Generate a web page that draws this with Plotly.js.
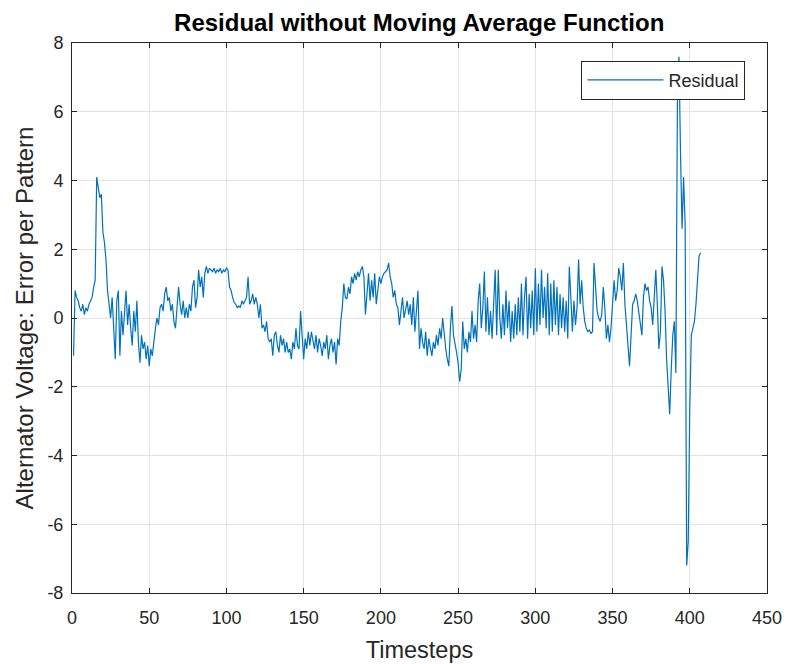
<!DOCTYPE html>
<html>
<head>
<meta charset="utf-8">
<script src="https://cdn.plot.ly/plotly-3.0.1.min.js"></script>
<style>html,body{margin:0;padding:0;background:#fff;}#chart{width:788px;height:664px;}</style>
</head>
<body>
<div id="chart"></div>
<script>
// Residual values per timestep, starting at timestep 1
const residualA = [
  -1.1, 0.8, 0.6, 0.5, 0.3, 0.2, 0.4, 0.1, 0.3, 0.2,
  0.4, 0.5, 0.6, 0.9, 1.1, 4.1, 3.8, 3.5, 3.6, 2.5,
  2.2, 1.7, 0.8, 0.4, 0.0, 0.6, -0.4, -1.2, 0.5, 0.8,
  -1.1, 0.2, -0.5, 0.3, 0.8, -0.2, 0.4, -0.3, -0.8, 0.2,
  -0.4, 0.5, -0.7, -1.3, -0.5, -0.9, -0.7, -1.2, -0.8, -1.4,
  -0.9, -1.1, -0.6, -0.3, 0.0, -0.2, 0.3, 0.4, 0.2, 0.7,
  0.9, 0.5, 0.6, 0.2, 0.4, -0.1, -0.3, 0.3, 0.9, 0.4,
  0.1, 0.5, 0.0, 0.3, 0.0, 0.4, 0.2, 0.9, 1.1, 0.3,
  0.6, 1.4, 0.9, 1.2, 0.6, 1.3, 1.5, 1.3, 1.45, 1.4,
  1.35, 1.45, 1.3, 1.4, 1.35, 1.45, 1.3, 1.4, 1.35, 1.45
];
const residualB = [
  1.4, 0.9, 0.8, 0.6, 0.45, 0.4, 0.3, 0.35, 0.3, 0.5,
  0.4, 0.5, 0.6, 1.2, 0.4, 0.5, 0.7, 0.4, 0.6, 0.4,
  0.0, 0.4, -0.3, -0.2, -0.4, -0.1, -0.6, -0.7, -0.6, -1.1,
  -0.5, -0.4, -0.8, -1.0, -0.5, -0.8, -0.6, -1.0, -0.7, -1.0,
  -0.9, -1.2, -0.7, -0.9, -0.3, -0.8, -0.9, 0.2, -0.5, -1.2,
  -0.6, -0.9, -0.4, -0.8, -0.4, -0.6, -0.9, -0.5, -1.0, -0.6,
  -0.8, -1.1, -0.7, -0.9, -0.5, -1.2, -0.8, -0.6, -1.0, -0.7,
  -1.35, -0.6, -0.8, -0.1, 0.3, 1.0, 0.6, 0.55, 0.9, 0.7,
  1.2, 1.0, 1.3, 1.1, 1.35, 1.2, 1.4, 1.5, 1.2, 0.1,
  0.8, 1.3, 0.5, 1.1, 0.6, 1.3, 0.4, 0.8, 1.2, 1.0
];
const residualC = [
  1.2, 1.3, 1.35, 1.4, 1.6, 1.2, 1.0, 0.6, 0.8, 0.4,
  0.3, -0.2, 0.2, 0.6, 0.0, 0.3, 0.5, 0.1, 0.4, -0.2,
  0.6, -0.4, 0.3, 0.8, -0.9, -0.3, -0.7, -0.9, -0.4, -1.1,
  -0.6, -0.8, -1.1, -0.7, -0.9, -0.5, -0.8, -0.3, -0.6, 0.0,
  -0.5, -0.9, -1.2, -1.4, -0.3, 0.35, -0.5, -0.7, -1.0, -1.3,
  -1.85, -1.5, -0.1, -0.9, -0.6, -1.0, -0.4, -0.7, 0.2, -0.6,
  -0.2, -0.7, 0.5, 1.0, -0.3, 0.3, 1.35, -0.4, 0.6, -0.5,
  0.2, -0.6, 0.5, 1.4, -0.5, 1.4, 0.0, -0.6, 0.4, -0.5,
  0.8, -0.3, 0.5, -0.7, 0.2, -0.6, 0.4, -0.5, 0.6, -0.4,
  1.0, -0.5, 0.6, 1.2, -0.6, 0.7, -0.3, 0.8, -0.5, 1.45
];
const residualD = [
  -0.4, 1.0, -0.2, 1.4, 0.0, 0.9, -0.3, 1.3, -0.5, 1.0,
  -0.4, 1.1, -0.2, 0.9, -0.5, 0.7, -0.3, 0.6, -0.4, 0.5,
  -0.6, 1.5, 0.6, -0.4, 0.5, -0.2, 0.3, 1.7, 0.4, 1.1,
  0.3, -0.1, -0.3, -0.4, -0.35, -0.45, -0.4, 1.6, 0.9, 0.2,
  0.0, -0.1, 0.1, 0.9, 0.3, -0.6, -0.2, -0.7, -0.3, 0.3,
  1.1, 0.5, 0.8, 1.45, 1.2, 0.8, 1.6, 0.4, -0.3, -1.0,
  -1.4, -0.5, 0.4, 0.5, 0.7, 0.5, 0.2, -0.2, -0.5, 0.6,
  1.0, 0.8, 0.9, 0.5, 0.3, -0.2, 0.6, 1.4, 0.4, -0.9,
  -0.4, 1.5, 1.1, 0.2, -1.2, -2.2, -2.8, -1.5, -0.5, -0.1,
  -1.6, 6.3, 7.6, 4.8, 2.6, 4.1, 2.7, -7.2, -6.5, -2.6,
  -0.5, -0.3, -0.1, 0.4, 1.3, 1.8, 1.9
];
const residual = residualA.concat(residualB, residualC, residualD);

const xTicks = [0, 50, 100, 150, 200, 250, 300, 350, 400, 450];
const yTicks = [-8, -6, -4, -2, 0, 2, 4, 6, 8];

const FONT = 'Liberation Sans, Arial, Helvetica, sans-serif';
const AXCOL = '#262626';

const trace = {
  type: 'scatter',
  mode: 'lines',
  name: 'Residual',
  y: residual,
  x0: 1,
  dx: 1,
  line: {color: '#0072BD', width: 1.2}
};

const axisCommon = {
  showgrid: true,
  gridcolor: '#e3e3e3',
  gridwidth: 1,
  zeroline: false,
  showline: true,
  linecolor: AXCOL,
  linewidth: 1,
  mirror: 'ticks',
  ticks: 'inside',
  ticklen: 5,
  tickcolor: AXCOL,
  tickfont: {family: FONT, size: 18, color: AXCOL},
  tickmode: 'array'
};

const layout = {
  width: 788,
  height: 664,
  margin: {l: 72, r: 21, t: 43, b: 71},
  paper_bgcolor: '#ffffff',
  plot_bgcolor: '#ffffff',
  title: {
    text: '<b>Residual without Moving Average Function</b>',
    font: {family: FONT, size: 24, color: '#000000'},
    x: 0.532, xanchor: 'center',
    y: 0.9654, yanchor: 'middle'
  },
  xaxis: Object.assign({}, axisCommon, {
    range: [0, 450],
    tickvals: xTicks,
    ticktext: xTicks.map(String),
    ticklabelstandoff: 8,
    title: {text: 'Timesteps', font: {family: FONT, size: 23.5, color: AXCOL}, standoff: 14}
  }),
  yaxis: Object.assign({}, axisCommon, {
    range: [-8, 8],
    tickvals: yTicks,
    ticktext: yTicks.map(String),
    ticklabelstandoff: 4,
    title: {text: 'Alternator Voltage: Error per Pattern', font: {family: FONT, size: 24, color: AXCOL}, standoff: 6}
  }),
  showlegend: true,
  legend: {
    x: 0.733, xanchor: 'left',
    y: 0.968, yanchor: 'top',
    bgcolor: '#ffffff',
    bordercolor: AXCOL,
    borderwidth: 1,
    font: {family: FONT, size: 18, color: AXCOL},
    itemwidth: 76
  }
};

Plotly.newPlot('chart', [trace], layout, {displayModeBar: false, staticPlot: true});
</script>
</body>
</html>
